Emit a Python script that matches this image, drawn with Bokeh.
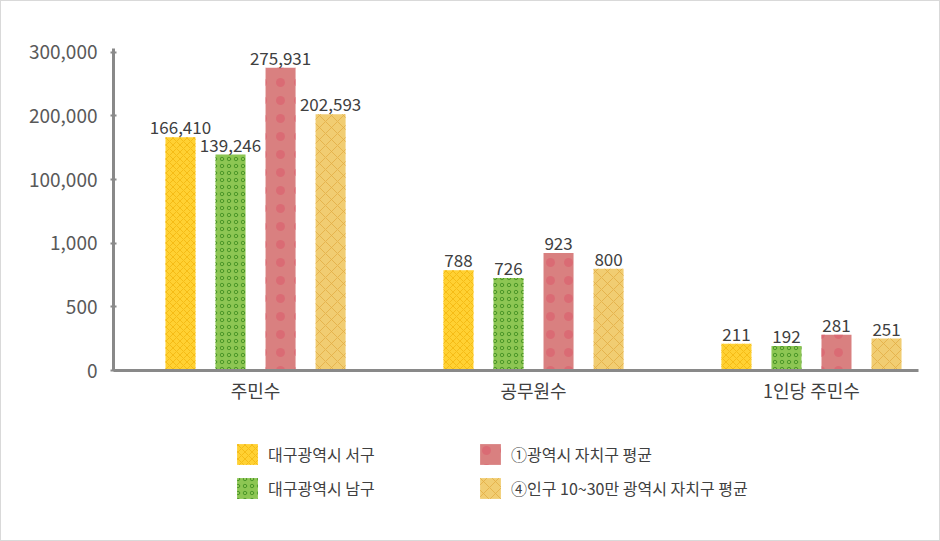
from bokeh.plotting import figure
from bokeh.layouts import column
from bokeh.models import ColumnDataSource, Legend, LegendItem, FixedTicker
from bokeh.core.properties import value
from bokeh.embed import file_html
from bokeh.resources import INLINE

categories = ["주민수", "공무원수", "1인당 주민수"]
series_names = ["대구광역시 서구", "대구광역시 남구", "①광역시 자치구 평균", "④인구 10~30만 광역시 자치구 평균"]
daegu_seogu = [166410, 788, 211]
daegu_namgu = [139246, 726, 192]
metro_avg = [275931, 923, 281]
pop_avg = [202593, 800, 251]
y_tick_labels = ["0", "500", "1,000", "100,000", "200,000", "300,000"]

FONT = "Noto Sans CJK KR"


def to_axis(v):
    # broken axis: 0-1,000 in steps of 500, then 100,000 steps
    if v <= 1000:
        return v / 500.0
    return 2 + v / 100000.0


W = 938
H_TOP = 420
H_BOT = 539 - H_TOP

p = figure(width=W, height=H_TOP, output_backend="svg", toolbar_location=None,
           x_range=(-0.511, 2.385), y_range=(0, 5.06),
           min_border_left=112, min_border_right=21, min_border_top=47, min_border_bottom=H_TOP - 369)
p.outline_line_color = None
p.xgrid.visible = False
p.ygrid.visible = False

styles = [
    dict(fill_color="#FFD133", hatch_pattern="diagonal_cross", hatch_color="#F2B70F", hatch_scale=7, hatch_weight=1, hatch_alpha=0.8),
    dict(fill_color="#8DC653", hatch_pattern="ring", hatch_color="#4A9527", hatch_scale=7, hatch_weight=1, hatch_alpha=1.0),
    dict(fill_color="#D98080", hatch_pattern="dot", hatch_color="#DB6570", hatch_scale=18, hatch_weight=4, hatch_alpha=0.8),
    dict(fill_color="#F1CD72", hatch_pattern="diagonal_cross", hatch_color="#E2AE45", hatch_scale=12, hatch_weight=1, hatch_alpha=0.8),
]
series = [daegu_seogu, daegu_namgu, metro_avg, pop_avg]
offsets = [-0.27, -0.09, 0.09, 0.27]

for vals, st, off in zip(series, styles, offsets):
    src = ColumnDataSource(dict(
        x=[i + off for i in range(len(categories))],
        top=[to_axis(v) for v in vals],
        label=[f"{v:,}" for v in vals],
    ))
    p.vbar(x="x", top="top", width=0.108, source=src, line_color=None, **st)
    p.text(x="x", y="top", text="label", source=src, text_align="center", text_baseline="bottom",
           y_offset=-3, text_font=value(FONT), text_font_size="17px", text_color="#404040")

# axes
p.yaxis.ticker = FixedTicker(ticks=list(range(len(y_tick_labels))))
p.yaxis.major_label_overrides = {i: t for i, t in enumerate(y_tick_labels)}
p.yaxis.minor_tick_line_color = None
p.yaxis.major_tick_in = 3
p.yaxis.major_tick_out = 3
p.yaxis.major_tick_line_color = "#898989"
p.yaxis.major_tick_line_width = 2
p.yaxis.axis_line_color = "#898989"
p.yaxis.axis_line_width = 3
p.yaxis.major_label_text_font = FONT
p.yaxis.major_label_text_font_size = "19px"
p.yaxis.major_label_text_color = "#595959"
p.yaxis.major_label_standoff = 13

p.xaxis.ticker = FixedTicker(ticks=list(range(len(categories))))
p.xaxis.major_label_overrides = {i: c for i, c in enumerate(categories)}
p.xaxis.minor_tick_line_color = None
p.xaxis.major_tick_line_color = None
p.xaxis.axis_line_color = "#898989"
p.xaxis.axis_line_width = 3
p.xaxis.major_label_text_font = FONT
p.xaxis.major_label_text_font_size = "18px"
p.xaxis.major_label_text_color = "#404040"
p.xaxis.major_label_standoff = 0

# legend figure
lf = figure(width=W, height=H_BOT, output_backend="svg", toolbar_location=None,
            x_range=(0, 1), y_range=(0, 1), min_border=0,
            x_axis_type=None, y_axis_type=None)
lf.outline_line_color = None
lf.grid.visible = False

legend_items = []
for name, st in zip(series_names, styles):
    # zero-height swatch glyphs; only the legend shows them
    r = lf.vbar(x=[0.5], top=[0], bottom=[0], width=0.0, line_color=None, **st)
    legend_items.append(LegendItem(label=name, renderers=[r]))

lg = Legend(items=legend_items, location=(121, H_BOT - 20 - 60), orientation="vertical", ncols=2,
            glyph_width=26, glyph_height=26, label_height=26, label_width=201, spacing=8,
            padding=0, margin=0, label_standoff=8,
            border_line_color=None, background_fill_alpha=0,
            label_text_font=FONT, label_text_font_size="16px", label_text_color="#404040")
lf.add_layout(lg, "center")

layout = column(p, lf, spacing=0)
layout.styles = {"border": "1px solid #D9D9D9"}

open("out.html", "w").write(file_html(layout, INLINE))
